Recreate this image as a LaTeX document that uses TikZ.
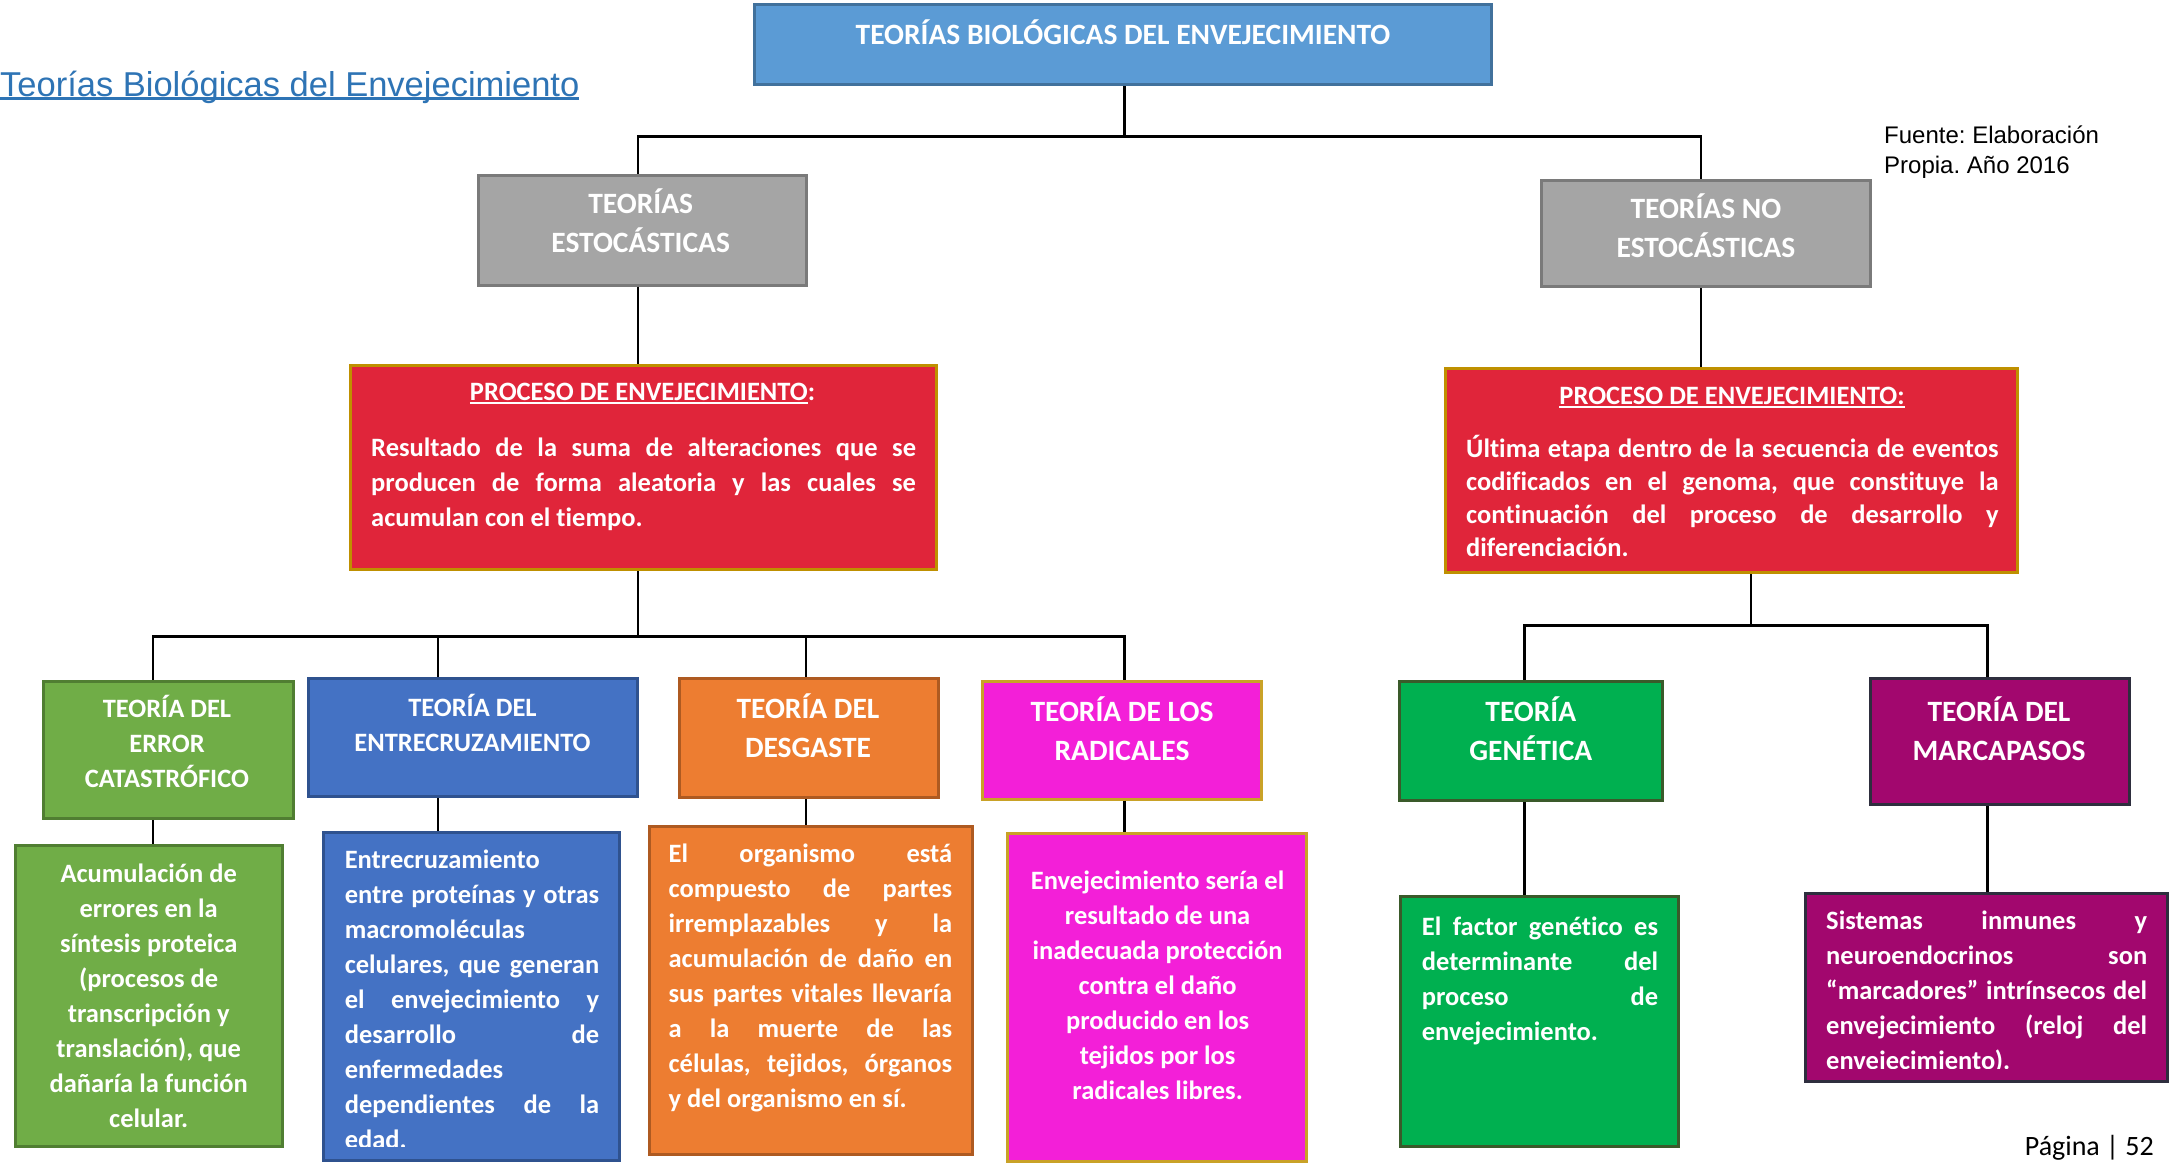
\documentclass[tikz,border=0pt]{standalone}
\usepackage{fontspec}
\setmainfont{Carlito}[Ligatures=CommonOff]
\newfontfamily\arialfam{Liberation Sans}
\frenchspacing

\definecolor{cTitle}{HTML}{5B9BD5}
\definecolor{cTitleB}{HTML}{41719C}
\definecolor{cGray}{HTML}{A5A5A5}
\definecolor{cGrayB}{HTML}{7A7A7A}
\definecolor{cRed}{HTML}{E0253A}
\definecolor{cGold}{HTML}{BF9000}
\definecolor{cGreenA}{HTML}{70AD47}
\definecolor{cGreenAB}{HTML}{507E32}
\definecolor{cBlue}{HTML}{4472C4}
\definecolor{cBlueB}{HTML}{2F528F}
\definecolor{cOrange}{HTML}{ED7D31}
\definecolor{cOrangeB}{HTML}{AE5A21}
\definecolor{cMagenta}{HTML}{F31FD8}
\definecolor{cMagentaB}{HTML}{C9A227}
\definecolor{cGreenB}{HTML}{00B050}
\definecolor{cGreenBB}{HTML}{3A5A2A}
\definecolor{cPurple}{HTML}{A2076E}
\definecolor{cPurpleB}{HTML}{2E2E3E}
\definecolor{cLink}{HTML}{2E74B5}

% width of a justified line and helpers
\newlength\jw
\newcommand\jline[1]{\makebox[\jw][s]{#1}}
\newcommand\ulbar[2][-3.5pt]{\setbox0\hbox{#2}\rlap{\rule[#1]{\wd0}{2.6pt}}\box0}

\begin{document}
\begin{tikzpicture}[x=1pt,y=-1pt,
  box/.style={draw, line width=3pt, inner sep=0pt},
  link/.style={line width=2.6pt, black},
  txt/.style={inner sep=0pt, anchor=north, text=white, align=center},
  hd/.style={font=\fontsize{26.5}{35}\selectfont\bfseries},
  hdl/.style={font=\fontsize{29.5}{39}\selectfont\bfseries},
  jw/.code={\setlength\jw{#1}},
  body/.style={inner sep=0pt, anchor=north west, text=white, align=left,
               font=\fontsize{26.5}{35}\selectfont\bfseries},
]
\useasboundingbox[fill=white] (0,0) rectangle (2179,1164);

% ---------- headings outside the chart ----------
\node[inner sep=0pt, anchor=base west, text=cLink,
      font=\arialfam\fontsize{34.5}{40}\selectfont] (heading) at (0,96)
      {\ulbar[-4pt]{Teorías Biológicas del Envejecimiento}};
\node[inner sep=0pt, anchor=north west, align=left,
      font=\arialfam\fontsize{24}{30.5}\selectfont] (source) at (1884,121.6)
      {\strut Fuente: Elaboración\\Propia. Año 2016};
\node[inner sep=0pt, anchor=base east, font=\fontsize{28}{34}\selectfont] (page)
      at (2154,1155) {Página | 52};

% ---------- boxes ----------
\node[box, fill=cTitle, draw=cTitleB, minimum width=736.5pt, minimum height=80.6pt] (title) at (1122.85,44.5) {};
\node[box, fill=cGray, draw=cGrayB, minimum width=328pt, minimum height=110pt] (stoch) at (642,230) {};
\node[box, fill=cGray, draw=cGrayB, minimum width=329.6pt, minimum height=105.6pt] (nostoch) at (1705.8,233.5) {};
\node[box, fill=cRed, draw=cGold, minimum width=586.5pt, minimum height=204.3pt] (red1) at (643.45,467.65) {};
\node[box, fill=cRed, draw=cGold, minimum width=572.5pt, minimum height=204.3pt] (red2) at (1731.55,470.45) {};

\node[box, fill=cGreenA, draw=cGreenAB, minimum width=250.1pt, minimum height=137.5pt] (err) at (168.15,749.75) {};
\node[box, fill=cBlue, draw=cBlueB, minimum width=329.4pt, minimum height=118.1pt] (entrec) at (473.2,737.25) {};
\node[box, fill=cOrange, draw=cOrangeB, minimum width=258.4pt, minimum height=119.5pt] (desg) at (808.8,737.95) {};
\node[box, fill=cMagenta, draw=cMagentaB, minimum width=279.3pt, minimum height=118pt] (radic) at (1122.15,740) {};
\node[box, fill=cGreenB, draw=cGreenBB, minimum width=262.6pt, minimum height=119.5pt] (gen) at (1530.7,740.75) {};
\node[box, fill=cPurple, draw=cPurpleB, minimum width=258.4pt, minimum height=126.4pt] (marc) at (1999.8,741.4) {};

\node[box, fill=cGreenA, draw=cGreenAB, minimum width=266.8pt, minimum height=301.5pt] (errd) at (148.7,995.75) {};
\node[box, fill=cBlue, draw=cBlueB, minimum width=296pt, minimum height=328pt] (entrecd) at (471.8,996.4) {};
\node[box, fill=cOrange, draw=cOrangeB, minimum width=323.8pt, minimum height=327.9pt] (desgd) at (810.9,990.85) {};
\node[box, fill=cMagenta, draw=cMagentaB, minimum width=298.8pt, minimum height=328pt] (radicd) at (1156.9,997.8) {};
\node[box, fill=cGreenB, draw=cGreenBB, minimum width=278pt, minimum height=250.1pt] (gend) at (1539.8,1021.45) {};
\node[box, fill=cPurple, draw=cPurpleB, minimum width=362.7pt, minimum height=187.6pt] (marcd) at (1986.55,987.4) {};

% ---------- connectors ----------
\coordinate (jTop) at (1124.3,136.2);
\coordinate (jL) at (638,636.5);
\coordinate (jR) at (1751,625.4);
\coordinate (xSto) at (638,0);
\coordinate (xNst) at (1701,0);
\coordinate (xErr) at (152.9,0);
\coordinate (xEnt) at (437.8,0);
\coordinate (xDes) at (806,0);
\coordinate (xRad) at (1124.3,0);
\coordinate (xGen) at (1524.5,0);
\coordinate (xMar) at (1987.3,0);

\draw[link] (title.south -| jTop) -- (jTop);
\draw[link] (xSto |- stoch.north) |- (jTop) -| (xNst |- nostoch.north);
\draw[link] (xSto |- stoch.south) -- (xSto |- red1.north);
\draw[link] (xNst |- nostoch.south) -- (xNst |- red2.north);

\draw[link] (red1.south -| jL) -- (jL);
\draw[link] (xErr |- err.north) |- (jL) -| (xRad |- radic.north);
\draw[link] (xEnt |- jL) -- (xEnt |- entrec.north);
\draw[link] (xDes |- jL) -- (xDes |- desg.north);
\draw[link] (red2.south -| jR) -- (jR);
\draw[link] (xGen |- gen.north) |- (jR) -| (xMar |- marc.north);

\draw[link] (xErr |- err.south) -- (xErr |- errd.north);
\draw[link] (xEnt |- entrec.south) -- (xEnt |- entrecd.north);
\draw[link] (xDes |- desg.south) -- (xDes |- desgd.north);
\draw[link] (xRad |- radic.south) -- (xRad |- radicd.north);
\draw[link] (xGen |- gen.south) -- (xGen |- gend.north);
\draw[link] (xMar |- marc.south) -- (xMar |- marcd.north);

% ---------- texts ----------
\node[txt, hdl] (titleT) at (1123,16.9) {\strut TEORÍAS BIOLÓGICAS DEL ENVEJECIMIENTO};
\node[txt, hdl] (stochT) at (640.7,186.2) {\strut TEORÍAS\\ESTOCÁSTICAS};
\node[txt, hdl] (nostochT) at (1705.9,190.7) {\strut TEORÍAS NO\\ESTOCÁSTICAS};

\node[txt, hd] (red1T) at (642.5,375.9) {\strut\ulbar{PROCESO DE ENVEJECIMIENTO}:};
\node[body, jw=544.8pt] (red1B) at (371,431.4) {\strut\jline{Resultado de la suma de alteraciones que se}\\
  \jline{producen de forma aleatoria y las cuales se}\\
  acumulan con el tiempo.};
\node[txt, hd] (red2T) at (1732,380) {\strut\ulbar{PROCESO DE ENVEJECIMIENTO:}};
\node[body, jw=532.4pt, font=\fontsize{26.5}{33}\selectfont\bfseries] (red2B) at (1466,434.2)
  {\strut\jline{Última etapa dentro de la secuencia de eventos}\\
  \jline{codificados en el genoma, que constituye la}\\
  \jline{continuación del proceso de desarrollo y}\\
  diferenciación.};

\node[txt, hd] (errT) at (167,692.7) {\strut TEORÍA DEL\\ERROR\\CATASTRÓFICO};
\node[txt, hd] (entrecT) at (472.5,691.4) {\strut TEORÍA DEL\\ENTRECRUZAMIENTO};
\node[txt, hdl] (desgT) at (808,690.9) {\strut TEORÍA DEL\\DESGASTE};
\node[txt, hdl] (radicT) at (1122,693.7) {\strut TEORÍA DE LOS\\RADICALES};
\node[txt, hdl] (genT) at (1530.8,693.7) {\strut TEORÍA\\GENÉTICA};
\node[txt, hdl] (marcT) at (1999,694.2) {\strut TEORÍA DEL\\MARCAPASOS};

\node[txt, hd] (errdT) at (148.7,857.6) {\strut Acumulación de\\errores en la\\síntesis proteica\\(procesos de\\transcripción y\\translación), que\\dañaría la función\\celular.};

\begin{scope}
  \clip (entrecd.north west) rectangle ([yshift=15pt]entrecd.south east);
  \node[body, jw=254.4pt] (entrecdT) at (344.6,843.7) {\strut Entrecruzamiento\\
    \jline{entre proteínas y otras}\\
    macromoléculas\\
    \jline{celulares, que generan}\\
    \jline{el envejecimiento y}\\
    \jline{desarrollo de}\\
    enfermedades\\
    \jline{dependientes de la}\\
    edad.};
\end{scope}

\node[body, jw=283.6pt] (desgdT) at (668.4,838.2) {\strut\jline{El organismo está}\\
  \jline{compuesto de partes}\\
  \jline{irremplazables y la}\\
  \jline{acumulación de daño en}\\
  \jline{sus partes vitales llevaría}\\
  \jline{a la muerte de las}\\
  \jline{células, tejidos, órganos}\\
  y del organismo en sí.};

\node[txt, hd] (radicdT) at (1157.6,864.5) {\strut Envejecimiento sería el\\resultado de una\\inadecuada protección\\contra el daño\\producido en los\\tejidos por los\\radicales libres.};

\node[body, jw=236.2pt] (gendT) at (1421.7,910.5) {\strut\jline{El factor genético es}\\
  \jline{determinante del}\\
  \jline{proceso de}\\
  envejecimiento.};

\begin{scope}
  \clip (marcd.north west) rectangle ([yshift=14pt]marcd.south east);
  \node[body, jw=321pt] (marcdT) at (1826,904.9) {\strut\jline{Sistemas inmunes y}\\
    \jline{neuroendocrinos son}\\
    \jline{“marcadores” intrínsecos del}\\
    \jline{envejecimiento (reloj del}\\
    envejecimiento).};
\end{scope}
\end{tikzpicture}
\end{document}
